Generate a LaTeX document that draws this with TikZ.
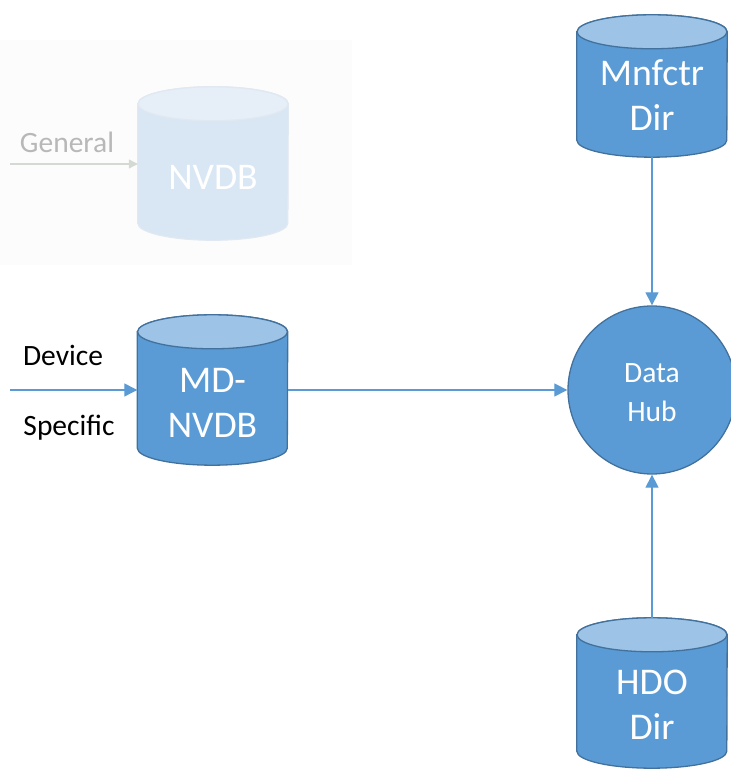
\documentclass[tikz,border=0pt]{standalone}
\usepackage{fontspec}
\setmainfont{Carlito}
\usetikzlibrary{arrows.meta,calc}

\definecolor{drumbody}{HTML}{5B9BD5}
\definecolor{drumtop}{HTML}{9DC3E6}
\definecolor{drumedge}{HTML}{41719C}
\definecolor{wire}{HTML}{5B9BD5}
\definecolor{ghostbody}{HTML}{D9E6F4}
\definecolor{ghosttop}{HTML}{E6EEF8}
\definecolor{ghostedge}{HTML}{E0E8F1}
\definecolor{ghosttext}{HTML}{B8B8B8}
\definecolor{ghostwire}{HTML}{D3DAD3}
\definecolor{ghostpanel}{HTML}{FCFCFC}

% draws a drum (cylinder) filling the box of node #1
\newcommand\drawdrum[4]{%
  \path[draw=#4, fill=#2, line width=1.3pt]
    ([yshift=-17pt]#1.north west) -- ([yshift=17pt]#1.south west)
    arc[start angle=180, end angle=360, x radius=75pt, y radius=17pt]
    -- ([yshift=-17pt]#1.north east)
    arc[start angle=0, end angle=180, x radius=75pt, y radius=17pt] -- cycle;
  \path[draw=#4, fill=#3, line width=1.3pt]
    ([yshift=-17pt]#1.north) ellipse[x radius=75pt, y radius=17pt];
}

\tikzset{
  drumbox/.style={rectangle, draw=none, minimum width=150pt, inner sep=0pt},
  bigtext/.style={text=white, align=center, font=\fontsize{37.7}{45}\selectfont},
  smalltext/.style={align=center, font=\fontsize{29.5}{39}\selectfont},
  hub/.style={circle, draw=drumedge, fill=drumbody, line width=1.3pt,
    minimum size=168pt, inner sep=0pt},
  link/.style={draw=wire, line width=1.2pt, -{Triangle[length=13pt, width=13pt]}},
  ghostlink/.style={draw=ghostwire, line width=1.2pt, -{Triangle[length=9pt, width=9pt]}},
}

\begin{document}
\begin{tikzpicture}[x=1pt, y=1pt]
\useasboundingbox (0,0) rectangle (730,770);

% faded panel with the general database
\fill[ghostpanel] (0,505) rectangle (352,730);
\node[drumbox, minimum height=153pt] (nvdb) at (213,606.5) {};
\drawdrum{nvdb}{ghostbody}{ghosttop}{ghostedge}
\node[bigtext] (nvdbtext) at (213,593) {NVDB};
\node[smalltext, text=ghosttext] (general) at (67,628) {General};
\coordinate (gstart) at (10,606);
\draw[ghostlink] (gstart) -- (gstart -| nvdb.west);

% device specific database
\node[drumbox, minimum height=150pt] (md) at (212.5,380) {};
\drawdrum{md}{drumbody}{drumtop}{drumedge}
\node[bigtext] (mdtext) at (212.5,367.5) {MD-\\NVDB};
\node[smalltext] (device) at (63,415) {Device};
\node[smalltext] (specific) at (69,342) {Specific};
\coordinate (mdstart) at (10,380);

% manufacturer directory
\node[drumbox, minimum height=142pt] (mnf) at (652,684) {};
\drawdrum{mnf}{drumbody}{drumtop}{drumedge}
\node[bigtext] (mnftext) at (652,675) {Mnfctr\\Dir};

% HDO directory
\node[drumbox, minimum height=150pt] (hdo) at (652,77) {};
\drawdrum{hdo}{drumbody}{drumtop}{drumedge}
\node[bigtext] (hdotext) at (652,65) {HDO\\Dir};

% data hub
\node[hub] (hubnode) at (652,380) {};
\node[smalltext, text=white] (hubtext) at (652,377.5) {Data\\Hub};

% connectors
\draw[link] (mdstart) -- (md.west);
\draw[link] (md.east) -- (hubnode.west);
\draw[link] (mnf.south) -- (hubnode.north);
\draw[link] (hdo.north) -- (hubnode.south);
\end{tikzpicture}
\end{document}
